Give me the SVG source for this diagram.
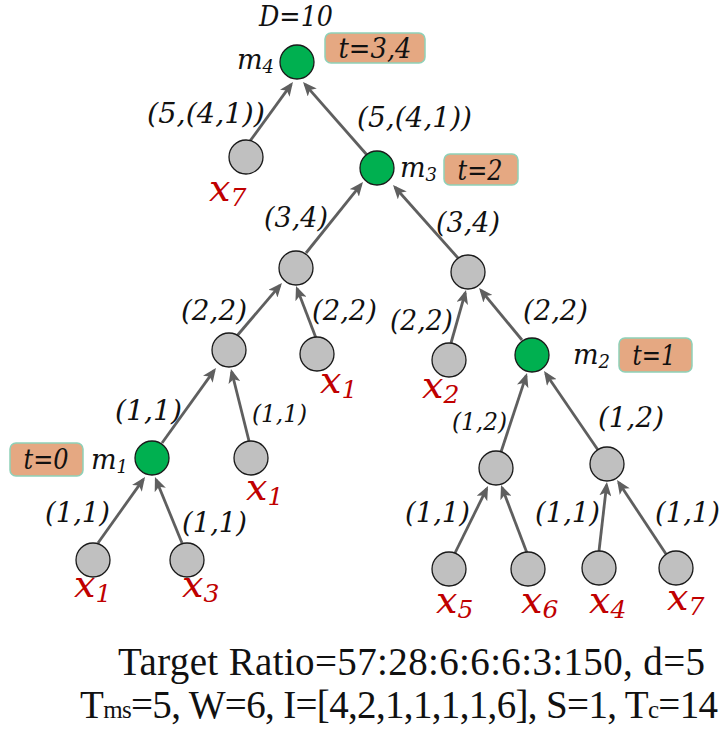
<svg xmlns="http://www.w3.org/2000/svg" width="721" height="731" viewBox="0 0 721 731">
<defs>
<marker id="ah" markerUnits="userSpaceOnUse" markerWidth="14" markerHeight="12" refX="11" refY="6" orient="auto">
<path d="M0,0 L14,6 L0,12 L3.5,6 z" fill="#5f5f5f"/>
</marker>
<style>
.n{stroke:#1a1a1a;stroke-width:1.3}
.gy{fill:#c0c0c0}
.gn{fill:#00b050}
.e{stroke:#5f5f5f;stroke-width:2.8;fill:none;marker-end:url(#ah)}
.l{font-family:"DejaVu Serif",serif;font-style:italic;font-size:28px;fill:#111}
.ls{font-size:24px}
.x{font-family:"DejaVu Serif",serif;font-style:italic;font-size:38px;fill:#c00000}
.xs{font-size:25px}
.m{font-family:"DejaVu Serif",serif;font-style:italic;font-size:27px;fill:#111}
.ms{font-size:18px}
.tag{fill:#e5a882;stroke:#8ed1b8;stroke-width:1.5}
.tt{font-family:"DejaVu Serif",serif;font-style:italic;font-size:27px;fill:#111;text-anchor:middle}
.b{font-family:"Liberation Serif",serif;font-size:39px;fill:#111}
.bs{font-size:25px}
</style>
</defs>
<rect width="721" height="731" fill="#fff"/>

<g id="connectors">
<line class="e" x1="250" y1="141" x2="291.2" y2="84.4"/>
<line class="e" x1="367" y1="155" x2="305" y2="84.3"/>
<line class="e" x1="306" y1="253" x2="361.1" y2="184.3"/>
<line class="e" x1="458" y1="258" x2="395" y2="187.2"/>
<line class="e" x1="236" y1="337" x2="280" y2="285.3"/>
<line class="e" x1="316" y1="338" x2="297.1" y2="288.8"/>
<line class="e" x1="451" y1="343" x2="465.2" y2="292.9"/>
<line class="e" x1="522" y1="340" x2="481" y2="290.3"/>
<line class="e" x1="162" y1="443" x2="214.2" y2="370.4"/>
<line class="e" x1="249" y1="441" x2="231.7" y2="371.9"/>
<line class="e" x1="98" y1="543" x2="143.3" y2="479.4"/>
<line class="e" x1="182" y1="543" x2="156.1" y2="479.8"/>
<line class="e" x1="501" y1="452" x2="526.1" y2="375.9"/>
<line class="e" x1="598" y1="450" x2="545.7" y2="373.5"/>
<line class="e" x1="455" y1="553" x2="486.7" y2="488.7"/>
<line class="e" x1="527" y1="553" x2="502.1" y2="487.8"/>
<line class="e" x1="599" y1="551" x2="606.6" y2="485"/>
<line class="e" x1="666" y1="554" x2="618.7" y2="482.5"/>
<text class="l" x="147" y="123" textLength="118" lengthAdjust="spacingAndGlyphs">(5,(4,1))</text>
<text class="l" x="357" y="127" textLength="115" lengthAdjust="spacingAndGlyphs">(5,(4,1))</text>
<text class="l" x="264" y="227" textLength="64" lengthAdjust="spacingAndGlyphs">(3,4)</text>
<text class="l" x="436" y="232" textLength="64" lengthAdjust="spacingAndGlyphs">(3,4)</text>
<text class="l" x="181" y="320" textLength="66" lengthAdjust="spacingAndGlyphs">(2,2)</text>
<text class="l" x="312" y="320" textLength="65" lengthAdjust="spacingAndGlyphs">(2,2)</text>
<text class="l" x="390" y="330" textLength="63" lengthAdjust="spacingAndGlyphs">(2,2)</text>
<text class="l" x="523" y="320" textLength="65" lengthAdjust="spacingAndGlyphs">(2,2)</text>
<text class="l" x="115" y="420" textLength="67" lengthAdjust="spacingAndGlyphs">(1,1)</text>
<text class="l ls" x="252" y="422" textLength="55" lengthAdjust="spacingAndGlyphs">(1,1)</text>
<text class="l ls" x="452" y="430" textLength="55" lengthAdjust="spacingAndGlyphs">(1,2)</text>
<text class="l" x="598" y="427" textLength="66" lengthAdjust="spacingAndGlyphs">(1,2)</text>
<text class="l" x="45" y="522" textLength="65" lengthAdjust="spacingAndGlyphs">(1,1)</text>
<text class="l" x="182" y="532" textLength="65" lengthAdjust="spacingAndGlyphs">(1,1)</text>
<text class="l" x="405" y="522" textLength="65" lengthAdjust="spacingAndGlyphs">(1,1)</text>
<text class="l" x="535" y="522" textLength="65" lengthAdjust="spacingAndGlyphs">(1,1)</text>
<text class="l" x="655" y="522" textLength="65" lengthAdjust="spacingAndGlyphs">(1,1)</text>
</g>

<g id="m4">
<text class="l" x="259" y="26" textLength="74" lengthAdjust="spacingAndGlyphs">D=10</text>
<circle class="n gn" cx="297" cy="62" r="17"/>
<text class="m" x="237" y="69">m<tspan class="ms" dy="4">4</tspan></text>
<rect class="tag" x="325" y="33" width="100" height="30" rx="6"/>
<text class="tt" x="375" y="58" textLength="73" lengthAdjust="spacingAndGlyphs">t=3,4</text>
</g>
<g id="x7a">
<circle class="n gy" cx="246" cy="157" r="17"/>
<text class="x" x="209" y="201">x<tspan class="xs" dy="5">7</tspan></text>
</g>
<g id="m3">
<circle class="n gn" cx="377" cy="168" r="17"/>
<text class="m" x="400" y="177">m<tspan class="ms" dy="4">3</tspan></text>
<rect class="tag" x="444" y="154" width="74" height="31" rx="6"/>
<text class="tt" x="480" y="180" textLength="45" lengthAdjust="spacingAndGlyphs">t=2</text>
</g>
<g id="nA">
<circle class="n gy" cx="296" cy="268" r="17"/>
</g>
<g id="nC">
<circle class="n gy" cx="468" cy="272" r="17"/>
</g>
<g id="nB">
<circle class="n gy" cx="229" cy="350" r="17"/>
</g>
<g id="x1a">
<circle class="n gy" cx="317" cy="354" r="17"/>
<text class="x" x="320" y="393">x<tspan class="xs" dy="5">1</tspan></text>
</g>
<g id="x2">
<circle class="n gy" cx="449" cy="360" r="17"/>
<text class="x" x="422" y="398">x<tspan class="xs" dy="5">2</tspan></text>
</g>
<g id="m2">
<circle class="n gn" cx="532" cy="355" r="17"/>
<text class="m" x="573" y="364">m<tspan class="ms" dy="4">2</tspan></text>
<rect class="tag" x="619" y="338" width="73" height="34" rx="6"/>
<text class="tt" x="654" y="365" textLength="43" lengthAdjust="spacingAndGlyphs">t=1</text>
</g>
<g id="m1">
<circle class="n gn" cx="152" cy="458" r="17"/>
<text class="m" x="91" y="469">m<tspan class="ms" dy="4">1</tspan></text>
<rect class="tag" x="10" y="443" width="73" height="33" rx="6"/>
<text class="tt" x="46" y="469" textLength="45" lengthAdjust="spacingAndGlyphs">t=0</text>
</g>
<g id="x1b">
<circle class="n gy" cx="251" cy="458" r="17"/>
<text class="x" x="246" y="500">x<tspan class="xs" dy="5">1</tspan></text>
</g>
<g id="nD">
<circle class="n gy" cx="496" cy="468" r="17"/>
</g>
<g id="nE">
<circle class="n gy" cx="607" cy="464" r="17"/>
</g>
<g id="x1c">
<circle class="n gy" cx="93" cy="560" r="17"/>
<text class="x" x="74" y="597">x<tspan class="xs" dy="5">1</tspan></text>
</g>
<g id="x3">
<circle class="n gy" cx="187" cy="560" r="17"/>
<text class="x" x="182" y="597">x<tspan class="xs" dy="5">3</tspan></text>
</g>
<g id="x5">
<circle class="n gy" cx="449" cy="569" r="17"/>
<text class="x" x="436" y="613">x<tspan class="xs" dy="5">5</tspan></text>
</g>
<g id="x6">
<circle class="n gy" cx="528" cy="569" r="17"/>
<text class="x" x="521" y="613">x<tspan class="xs" dy="5">6</tspan></text>
</g>
<g id="x4">
<circle class="n gy" cx="599" cy="568" r="17"/>
<text class="x" x="589" y="613">x<tspan class="xs" dy="5">4</tspan></text>
</g>
<g id="x7b">
<circle class="n gy" cx="676" cy="568" r="17"/>
<text class="x" x="667" y="610">x<tspan class="xs" dy="5">7</tspan></text>
</g>

<g id="caption">
<text class="b" x="118" y="675" textLength="587" lengthAdjust="spacing">Target Ratio=57:28:6:6:6:3:150, d=5</text>
<text class="b" x="80" y="718" textLength="638" lengthAdjust="spacing">T<tspan class="bs">ms</tspan>=5, W=6, I=[4,2,1,1,1,1,6], S=1, T<tspan class="bs">c</tspan>=14</text>
</g>
</svg>
